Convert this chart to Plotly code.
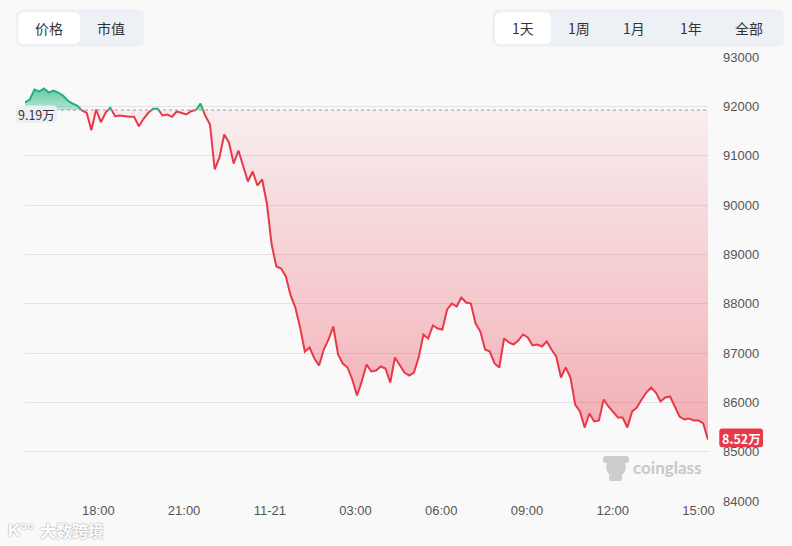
import plotly.graph_objects as go
import pandas as pd

# ---------------- data ----------------
start_time = "2025-11-20 15:26"
end_time = "2025-11-21 15:20"

prices = [
    92078, 92139, 92341, 92301, 92362, 92280, 92321, 92280, 92220, 92118,
    92057, 92017, 91916, 91869, 91516, 91936, 91678, 91875, 91970, 91800,
    91814, 91800, 91788, 91788, 91597, 91747, 91869, 91950, 91950, 91814,
    91834, 91788, 91895, 91869, 91834, 91901, 91916, 92057, 91814, 91632,
    90720, 90963, 91429, 91267, 90841, 91105, 90801, 90476, 90679, 90395,
    90517, 90030, 89199, 88753, 88713, 88551, 88166, 87922, 87517, 87030,
    87112, 86889, 86747, 87071, 87274, 87537, 86970, 86787, 86706, 86463,
    86139, 86422, 86767, 86625, 86645, 86726, 86686, 86402, 86909, 86747,
    86605, 86544, 86605, 86909, 87375, 87294, 87558, 87497, 87476, 87882,
    88003, 87943, 88125, 88024, 88003, 87598, 87436, 87071, 87030, 86787,
    86706, 87294, 87213, 87172, 87253, 87375, 87314, 87152, 87172, 87132,
    87233, 87071, 86929, 86503, 86706, 86503, 85956, 85814, 85490, 85774,
    85612, 85632, 86058, 85916, 85814, 85693, 85693, 85490, 85814, 85895,
    86058, 86199, 86301, 86199, 86017, 86098, 86118, 85916, 85713, 85652,
    85672, 85632, 85632, 85571, 85240,
]
baseline_price = 91925
baseline_label = "9.19万"
last_label = "8.52万"

y_ticks = [84000, 85000, 86000, 87000, 88000, 89000, 90000, 91000, 92000, 93000]
x_tick_times = ["2025-11-20 18:00", "2025-11-20 21:00", "2025-11-21 00:00",
                "2025-11-21 03:00", "2025-11-21 06:00", "2025-11-21 09:00",
                "2025-11-21 12:00", "2025-11-21 15:00"]
x_tick_text = ["18:00", "21:00", "11-21", "03:00", "06:00", "09:00", "12:00", "15:00"]

metric_buttons = ["价格", "市值"]
range_buttons = ["1天", "1周", "1月", "1年", "全部"]

# ---------------- styling ----------------
RED = "#e8394a"
GREEN = "#1db37a"
BG = "#f9f9f9"
FONT = "Liberation Sans, Arial, Noto Sans CJK SC, sans-serif"
CJK = "Noto Sans CJK SC, Liberation Sans, sans-serif"

# ---------------- split at baseline crossings ----------------
times = pd.date_range(start_time, end_time, periods=len(prices))
tnum = [t.value for t in times]
xs, ys = [], []
for i in range(len(prices)):
    if i > 0:
        p0, p1 = prices[i - 1], prices[i]
        if (p0 - baseline_price) * (p1 - baseline_price) < 0:
            f = (baseline_price - p0) / (p1 - p0)
            xs.append(pd.Timestamp(int(tnum[i - 1] + f * (tnum[i] - tnum[i - 1]))))
            ys.append(baseline_price)
    xs.append(times[i])
    ys.append(prices[i])

lower = [min(v, baseline_price) for v in ys]
upper = [max(v, baseline_price) for v in ys]
red_line = [v if v <= baseline_price else None for v in ys]
green_line = [v if v >= baseline_price else None for v in ys]
base_arr = [baseline_price] * len(xs)

fig = go.Figure()
fig.add_trace(go.Scatter(x=xs, y=base_arr, mode="lines", line=dict(width=0),
                         showlegend=False, hoverinfo="skip"))
fig.add_trace(go.Scatter(
    x=xs, y=lower, mode="lines", line=dict(width=0), fill="tonexty",
    fillgradient=dict(type="vertical", start=84300, stop=baseline_price,
                      colorscale=[[0, "rgba(232,57,74,0.44)"], [1, "rgba(232,57,74,0.06)"]]),
    showlegend=False, hoverinfo="skip"))
fig.add_trace(go.Scatter(x=xs, y=base_arr, mode="lines", line=dict(width=0),
                         showlegend=False, hoverinfo="skip"))
fig.add_trace(go.Scatter(
    x=xs, y=upper, mode="lines", line=dict(width=0), fill="tonexty",
    fillgradient=dict(type="vertical", start=baseline_price, stop=92380,
                      colorscale=[[0, "rgba(29,179,122,0.3)"], [1, "rgba(29,179,122,0.7)"]]),
    showlegend=False, hoverinfo="skip"))
fig.add_trace(go.Scatter(x=xs, y=red_line, mode="lines",
                         line=dict(color=RED, width=2), showlegend=False,
                         connectgaps=False, hoverinfo="skip"))
fig.add_trace(go.Scatter(x=xs, y=green_line, mode="lines",
                         line=dict(color=GREEN, width=2), showlegend=False,
                         connectgaps=False, hoverinfo="skip"))

# ---------------- layout helpers ----------------
L, T, W, H = 25, 57, 683, 444


def px(x):
    return (x - L) / W


def py(y):
    return (T + H - y) / H


def rrect(x0, y0, x1, y1, r):
    pts = [
        ("M", [(x0 + r, y0)]), ("L", [(x1 - r, y0)]), ("Q", [(x1, y0), (x1, y0 + r)]),
        ("L", [(x1, y1 - r)]), ("Q", [(x1, y1), (x1 - r, y1)]), ("L", [(x0 + r, y1)]),
        ("Q", [(x0, y1), (x0, y1 - r)]), ("L", [(x0, y0 + r)]), ("Q", [(x0, y0), (x0 + r, y0)]),
    ]
    s = ""
    for cmd, ps in pts:
        s += cmd + " " + " ".join(f"{px(a):.5f},{py(b):.5f}" for a, b in ps) + " "
    return s + "Z"


shapes = []
annotations = []


def box(x0, y0, x1, y1, r, color, layer="above"):
    shapes.append(dict(type="path", xref="paper", yref="paper", path=rrect(x0, y0, x1, y1, r),
                       fillcolor=color, line=dict(width=0), layer=layer))


def text(x, y, s, size=14, color="#333", xanchor="center", family=CJK, **kw):
    annotations.append(dict(x=px(x), y=py(y), xref="paper", yref="paper", text=s,
                            showarrow=False, xanchor=xanchor, yanchor="middle",
                            font=dict(size=size, color=color, family=family, **kw)))


# baseline dotted line
shapes.append(dict(type="line", xref="paper", yref="y", x0=0, x1=1,
                   y0=baseline_price, y1=baseline_price,
                   line=dict(color="#9a9a9a", width=1, dash="dot"), layer="above"))

# top-left button group
box(15.7, 9.5, 144.3, 46.5, 7, "#edf0f4")
box(18.3, 12.3, 80, 44, 6, "#ffffff")
for cx, lab in zip([49.3, 111], metric_buttons):
    text(cx, 27.5, lab, size=14, color="#333")

# top-right button group
box(492.3, 9.5, 784, 46.5, 7, "#edf0f4")
box(495, 12.3, 550.7, 44, 6, "#ffffff")
for cx, lab in zip([523.3, 579, 634.3, 690.7, 749.3], range_buttons):
    text(cx, 27.5, lab, size=14, color="#333")

# baseline label (left)
box(15.7, 105.5, 57.3, 123, 4, "#eceff3")
text(36.5, 114.5, baseline_label, size=12.5, color="#333")

# last price label (right)
box(719.3, 428.5, 763, 447.3, 3, RED)
text(741, 438, f"<b>{last_label}</b>", size=12.5, color="#ffffff")

# coinglass watermark
shapes.append(dict(type="circle", xref="paper", yref="paper",
                   x0=px(606), x1=px(626), y0=py(477), y1=py(457),
                   fillcolor="#cdcdcd", line=dict(width=0), layer="above"))
box(603, 456, 629, 463, 3, "#cdcdcd")
box(609, 474, 622, 481, 2, "#cdcdcd")
text(631, 467, "<b>coinglass</b>", size=17, color="#c8c8c8", xanchor="left",
     family="Lato, Liberation Sans, sans-serif")

# bottom-left site watermark
text(6, 530, "<b>K°°</b>", size=17, color="#ffffff", xanchor="left", family=FONT,
     shadow="0px 0px 2px #8a8a8a")
text(38, 530, "<b>大数跨境</b>", size=16, color="#ffffff", xanchor="left",
     shadow="0px 0px 2px #8a8a8a")

fig.update_layout(
    width=792, height=546,
    margin=dict(l=L, r=792 - L - W, t=T, b=546 - T - H),
    paper_bgcolor=BG, plot_bgcolor=BG,
    showlegend=False,
    font=dict(family=FONT, color="#555"),
    shapes=shapes, annotations=annotations,
    xaxis=dict(type="date", range=[start_time, end_time], showgrid=False, zeroline=False,
               showline=False, ticks="", tickvals=x_tick_times, ticktext=x_tick_text,
               tickfont=dict(size=13, color="#555", family=FONT), fixedrange=True),
    yaxis=dict(side="right", range=[84000, 93000], tickvals=y_ticks,
               ticktext=[str(v) for v in y_ticks], showgrid=True,
               gridcolor="#e2e2e2", gridwidth=1, zeroline=False, showline=False, ticks="",
               tickfont=dict(size=13, color="#555", family=FONT), ticklabelstandoff=14,
               fixedrange=True),
)

fig.write_html("out.html", post_script="document.body.style.margin='0';",
               config={"displayModeBar": False})
